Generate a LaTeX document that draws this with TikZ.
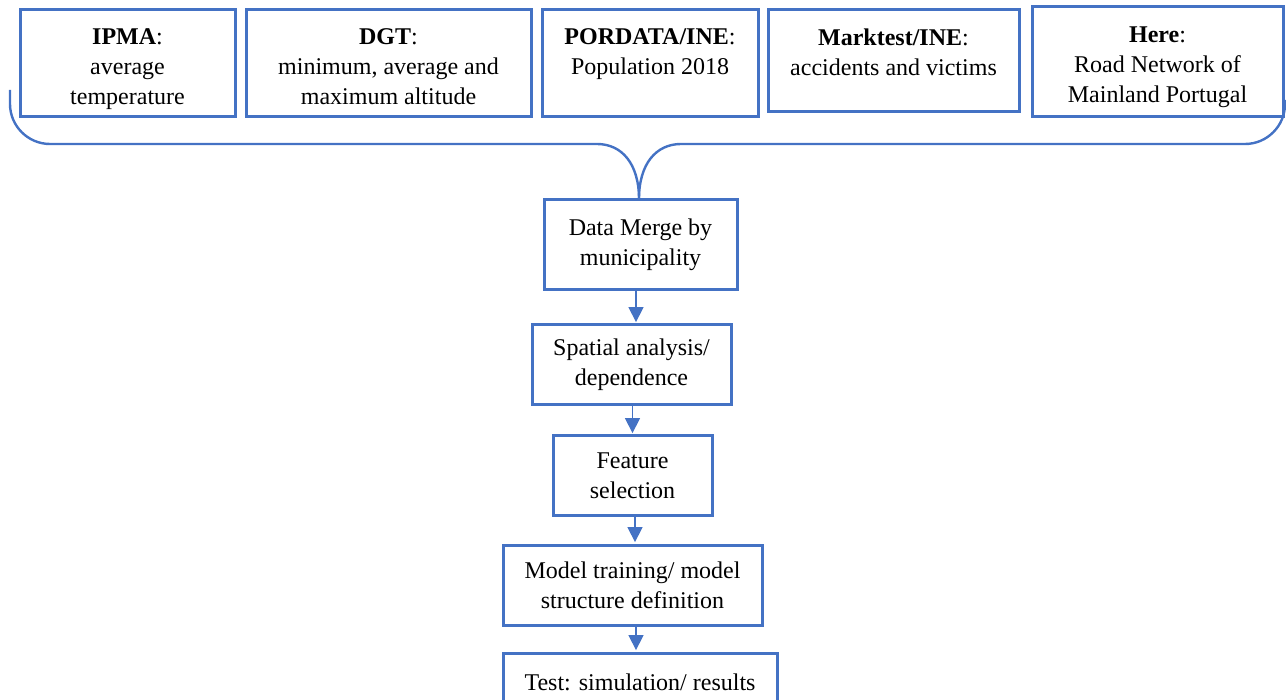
\documentclass[tikz,border=0pt]{standalone}
\usepackage{fontspec}
\setmainfont{Liberation Serif}
\usetikzlibrary{arrows.meta,calc}
\definecolor{wordblue}{HTML}{4472C4}
\begin{document}
\begin{tikzpicture}[x=1pt,y=-1pt,
  box/.style={draw=wordblue, line width=3pt, rectangle, inner sep=0pt},
  txt/.style={font=\fontsize{24}{30}\selectfont, align=center, inner sep=0pt, text=black},
  flow/.style={box, txt},
  brace/.style={draw=wordblue, line width=2.4pt, line join=round},
  arr/.style={draw=wordblue, line width=1.4pt, -{Triangle[width=15pt,length=15pt]}, shorten >=1.4pt}
]
\useasboundingbox (0,0) rectangle (1286,700);

% data source boxes
\node[box, minimum width=215pt, minimum height=107pt] (ipma) at (127.5,63.5) {};
\node[box, minimum width=285pt, minimum height=107pt] (dgt)  at (388.5,63.5) {};
\node[box, minimum width=216pt, minimum height=107pt] (pord) at (650,63.5) {};
\node[box, minimum width=251pt, minimum height=102pt] (mark) at (893.5,61) {};
\node[box, minimum width=251pt, minimum height=110pt] (here) at (1157.5,62) {};

\node[txt, anchor=north] (ipmat) at (127.5,28.5) {\textbf{IPMA}:\\average\\temperature};
\node[txt, anchor=north] (dgtt)  at (388.5,28.5) {\textbf{DGT}:\\minimum, average and\\maximum altitude};
\node[txt, anchor=north] (pordt) at (650,28.5)   {\textbf{PORDATA/INE}:\\Population 2018};
\node[txt, anchor=north] (markt) at (893.5,28.5) {\textbf{Marktest/INE}:\\accidents and victims};
\node[txt, anchor=north] (heret) at (1157.5,27) {\textbf{Here}:\\Road Network of\\Mainland Portugal};

% processing chain
\node[flow, minimum width=193pt, minimum height=90pt] (dm) at (640.5,245) {Data Merge by\\municipality};
\node[flow, minimum width=199pt, minimum height=80pt] (sp) at (631.5,365) {Spatial analysis/\\dependence};
\node[flow, minimum width=159pt, minimum height=80pt] (fs) at (632.5,476) {Feature\\selection};
\node[flow, minimum width=259pt, minimum height=80pt] (mt) at (632.5,585) {Model training/ model\\structure definition};
\node[flow, minimum width=274pt, minimum height=58pt] (ts) at (640,682) {Test: simulation/ results};

% curly brace gathering the sources
\coordinate (bl) at (10,90);
\coordinate (br) at (1285,100);
\coordinate (tip) at (639,199);
\draw[brace] (bl) -- (10,104) .. controls (10,126) and (28,144) .. (50,144)
  -- (597,144) .. controls (622,144) and (639,164) .. (tip);
\draw[brace] (tip) .. controls (639,164) and (656,144) .. (681,144)
  -- (1245,144) .. controls (1267,144) and (1285,126) .. (1285,104) -- (br);

% arrows between steps
\draw[arr] ([xshift=-4.5pt]dm.south) -- ([xshift=-4.5pt]dm.south |- sp.north);
\draw[arr] ([xshift=1pt]sp.south) -- ([xshift=1pt]sp.south |- fs.north);
\draw[arr] ([xshift=2.5pt]fs.south) -- ([xshift=2.5pt]fs.south |- mt.north);
\draw[arr] ([xshift=3.5pt]mt.south) -- ([xshift=3.5pt]mt.south |- ts.north);
\end{tikzpicture}
\end{document}
